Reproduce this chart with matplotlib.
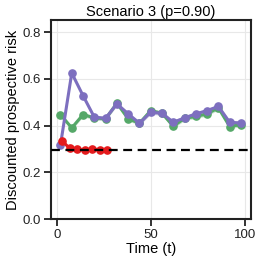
import matplotlib
matplotlib.use("Agg")
import matplotlib.pyplot as plt
import numpy as np

t_long = [2, 8, 14, 20, 26, 32, 38, 44, 50, 56, 62, 68, 74, 80, 86, 92, 98]
purple_vals = [0.317, 0.625, 0.528, 0.436, 0.431, 0.493, 0.450, 0.410, 0.457,
               0.453, 0.414, 0.433, 0.450, 0.464, 0.482, 0.414, 0.411]
green_vals = [0.447, 0.390, 0.447, 0.433, 0.429, 0.496, 0.429, 0.410, 0.464,
              0.453, 0.397, 0.431, 0.439, 0.450, 0.476, 0.396, 0.404]
t_red = [3, 7, 11, 15, 19, 23, 27]
red_vals = [0.333, 0.302, 0.298, 0.296, 0.299, 0.297, 0.296]
baseline = 0.295

plt.rcParams['font.family'] = ['Liberation Sans', 'DejaVu Sans']
fig = plt.figure(figsize=(2.62, 2.64), dpi=100)
ax = fig.add_axes([50.7/262, 1 - 219/264, (250.7 - 50.7)/262, (219 - 20)/264])

purple = '#7d6fbf'
green = '#55a868'
red = '#e41a1c'

ax.fill_between(t_long, np.array(green_vals) - 0.009, np.array(green_vals) + 0.009,
                color=green, alpha=0.3, lw=0)
ax.plot(t_long, green_vals, '-o', color=green, lw=2.2, ms=5.2, zorder=3)
ax.fill_between(t_long, np.array(purple_vals) - 0.009, np.array(purple_vals) + 0.009,
                color=purple, alpha=0.3, lw=0)
ax.plot(t_long, purple_vals, '-o', color=purple, lw=2.2, ms=5.2, zorder=4)
ax.plot(t_red, red_vals, '-o', color=red, lw=2.2, ms=5.2, zorder=5)
ax.axhline(baseline, color='black', ls='--', lw=1.6, dashes=(4, 2.5), zorder=6)

ax.set_xlim(-3.2, 103.2)
ax.set_ylim(0, 0.852)
ax.set_xticks([0, 50, 100])
ax.set_yticks([0.0, 0.2, 0.4, 0.6, 0.8])
ax.set_yticklabels(['0.0', '0.2', '0.4', '0.6', '0.8'])
ax.grid(True, color='#e8e8e8', lw=0.8)
ax.set_axisbelow(True)
for s in ax.spines.values():
    s.set_linewidth(1.5)
    s.set_color('#222222')
ax.tick_params(direction='out', length=5, width=1.3, labelsize=9.5, pad=2, colors='#222222')
ax.set_title('Scenario 3 (p=0.90)', fontsize=10.5, pad=3)
ax.set_xlabel('Time (t)', fontsize=10.5, labelpad=1)
ax.set_ylabel('Discounted prospective risk', fontsize=10.5, labelpad=2)

fig.savefig('out.png', dpi=100)
